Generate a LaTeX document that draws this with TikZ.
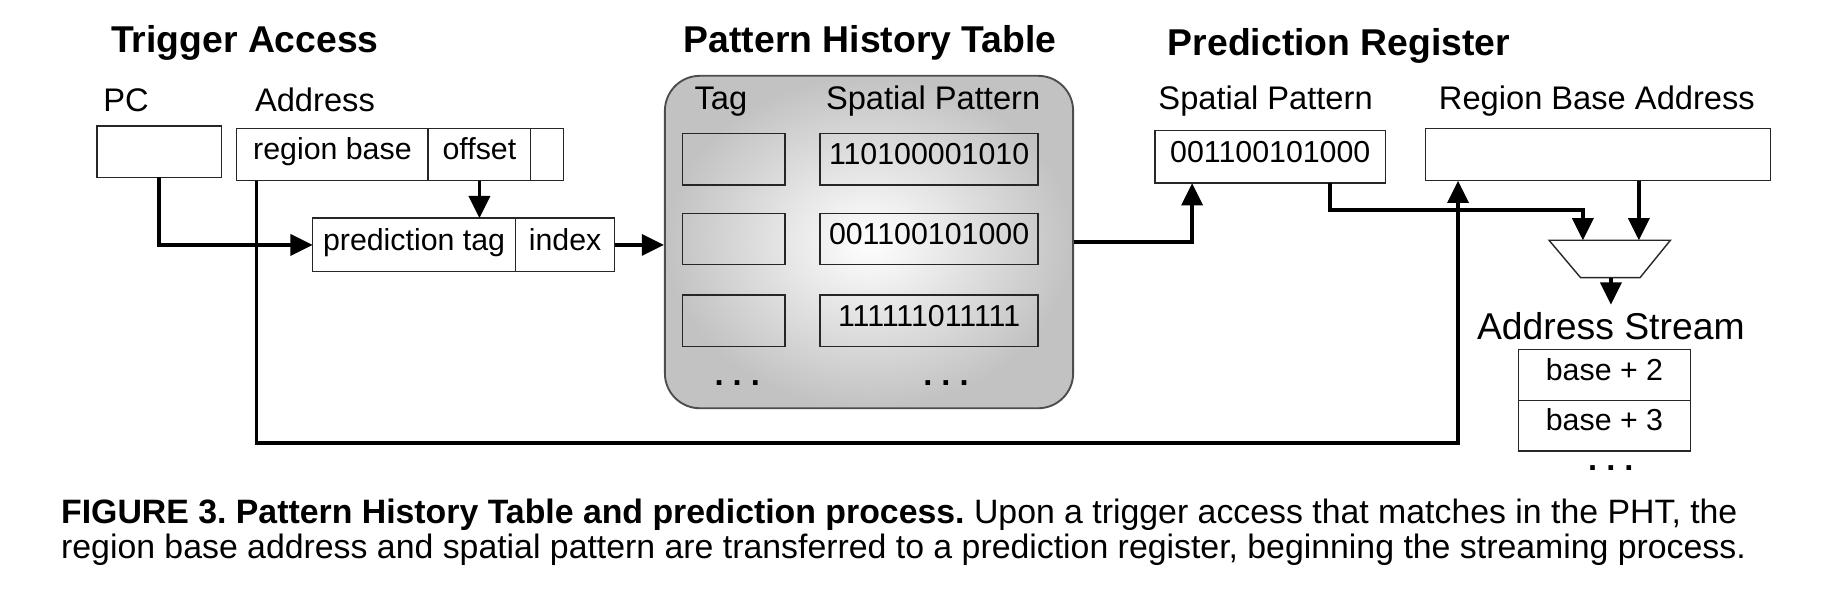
\documentclass[tikz,border=0pt]{standalone}
\usepackage{fontspec}
\setmainfont{Liberation Sans}
\usetikzlibrary{arrows.meta}
\frenchspacing

\begin{document}
\begin{tikzpicture}
  [x=0.5pt,y=-0.5pt,
   title/.style={font=\bfseries\fontsize{16}{19}\selectfont},
   lbl/.style={font=\fontsize{14}{17}\selectfont},
   cell/.style={draw=black!85,line width=0.6pt,inner sep=0pt,outer sep=0pt,minimum height=22.5pt,
     text height=9.5pt,text depth=5pt,font=\fontsize{13}{15}\selectfont},
   wire/.style={line width=1.5pt,-{Triangle[length=9.5pt,width=9pt]}},
   dots/.style={inner sep=0pt,font=\bfseries\fontsize{14}{17}\selectfont}]
  \useasboundingbox (0,0) rectangle (1568,506);
  \node[title] (ta) at (210,37) {Trigger Access};
  \node[lbl] (pcl) at (108,86) {PC};
  \node[lbl] (adl) at (270,86) {Address};
  \node[cell,minimum width=53.5pt,minimum height=22pt] (pc) at (136.5,130) {};
  \node[cell,minimum width=82pt] (rb) at (285,132.5) {region base};
  \node[cell,minimum width=44pt,anchor=west] (off) at (rb.east) {offset};
  \node[cell,minimum width=14pt,anchor=west] (pad) at (off.east) {};
  \node[cell,minimum width=87pt,minimum height=23pt] (ptag) at (355,210) {prediction tag};
  \node[cell,minimum width=42.5pt,minimum height=23pt,anchor=west] (idx) at (ptag.east) {index};
  \node[title] (phtl) at (746,37) {Pattern History Table};
  \node[draw=black!70,line width=0.8pt,rounded corners=15pt,inner color=white,outer color=black!24,
    minimum width=175pt,minimum height=142.5pt] (pht) at (745,207.5) {};
  \node[lbl] (tagl) at (618,87) {Tag};
  \node[lbl] (spl) at (800,87) {Spatial Pattern};
  \foreach \r/\y/\bits in {1/136.5/110100001010,2/205/001100101000,3/275/111111011111} {
    \node[cell,minimum width=44pt,minimum height=22pt] (tag\r) at (629,\y) {};
    \node[cell,minimum width=93.5pt,minimum height=22pt] (sp\r) at (796.5,\y) {\bits};
  }
  \node[dots] (tagd) at (632,328) {. . .};
  \node[dots] (spd) at (811,328) {. . .};
  \node[title] (prl) at (1148,39) {Prediction Register};
  \node[lbl] (prspl) at (1085,87) {Spatial Pattern};
  \node[lbl] (rbal) at (1369,87) {Region Base Address};
  \node[cell,minimum width=99pt] (prsp) at (1089,134.5) {001100101000};
  \node[cell,minimum width=148pt] (rba) at (1370,132.5) {};
  \draw[black!85,line width=0.6pt] (1328,206) -- (1432,206) -- (1406,238) -- (1355,238) -- cycle;
  \coordinate (in1) at (1357,206);
  \coordinate (in2) at (1405,206);
  \coordinate (mux) at (1381,238);
  \node[font=\fontsize{16}{19}\selectfont] (asl) at (1381,280) {Address Stream};
  \node[cell,minimum width=73.5pt,minimum height=21.75pt] (as1) at (1375.5,321.5) {base + 2};
  \node[cell,minimum width=73.5pt,minimum height=21.75pt,anchor=north] (as2) at (as1.south) {base + 3};
  \node[dots] (asd) at (1381,401) {. . .};
  \draw[wire] (pc.south) |- (ptag.west);
  \draw[wire] (off.south) -- (ptag.north -| off.south);
  \draw[wire] (idx.east) -- (idx.east -| pht.west);
  \draw[wire] (pht.east) -| ([xshift=-33.5pt]prsp.south);
  \draw[wire] ([xshift=-32.5pt]rb.south) -- ++(0,225) -| ([xshift=-60pt]rba.south);
  \draw[wire] ([xshift=25.5pt]prsp.south) -- ++(0,23) -| (in1);
  \draw[wire] (rba.south -| in2) -- (in2);
  \draw[wire] (mux) -- (asl.north);
  \node[anchor=north west,align=left,font=\fontsize{14.5}{15}\selectfont,inner sep=0pt] (cap) at (52,427)
    {\textbf{FIGURE 3. Pattern History Table and prediction process.} Upon a trigger access that matches in the PHT, the\\
     region base address and spatial pattern are transferred to a prediction register, beginning the streaming process.};
\end{tikzpicture}
\end{document}
